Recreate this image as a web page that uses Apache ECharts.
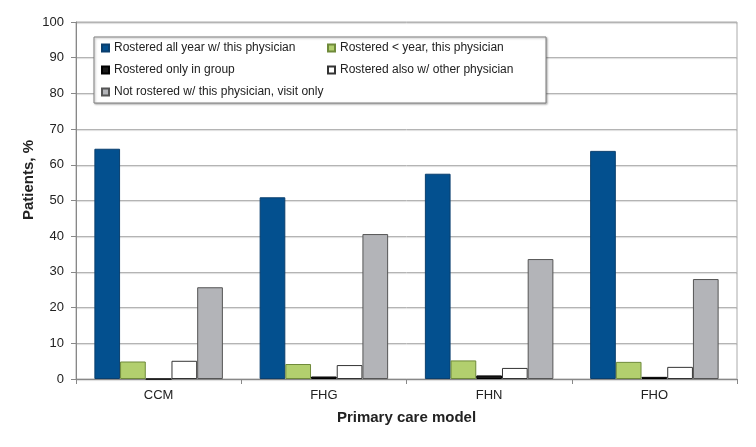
<!DOCTYPE html>
<html>
<head>
<meta charset="utf-8">
<script src="https://cdn.jsdelivr.net/npm/echarts@6/dist/echarts.min.js"></script>
<style>
html,body{margin:0;padding:0;background:#fff;}
#chart{width:756px;height:447px;}
</style>
</head>
<body>
<div id="chart"></div>
<script>
const categories = ['CCM', 'FHG', 'FHN', 'FHO'];
const seriesNames = [
  'Rostered all year w/ this physician',
  'Rostered < year, this physician',
  'Rostered only in group',
  'Rostered also w/ other physician',
  'Not rostered w/ this physician, visit only'
];
const rosteredAllYear = [64.5, 50.9, 57.5, 63.9];
const rosteredLessYear = [4.9, 4.2, 5.2, 4.8];
const rosteredGroupOnly = [0, 0.7, 1.0, 0.6];
const rosteredAlsoOther = [5.1, 3.9, 3.1, 3.4];
const notRostered = [25.7, 40.6, 33.6, 28.0];
const yTicks = [0, 10, 20, 30, 40, 50, 60, 70, 80, 90, 100];

const seriesData = [rosteredAllYear, rosteredLessYear, rosteredGroupOnly, rosteredAlsoOther, notRostered];
const fills = ['#03508f', '#b2cf6e', '#1a1a1a', '#ffffff', '#b3b4b8'];
const borders = ['#0a3f6e', '#6f8a3a', '#000000', '#333333', '#555555'];

const font = 'Liberation Sans, Arial, Helvetica, sans-serif';

const chart = echarts.init(document.getElementById('chart'), null, {renderer: 'canvas'});

const series = seriesNames.map((n, i) => ({
  name: n,
  type: 'bar',
  data: seriesData[i],
  barWidth: 25.7,
  barGap: '0%',
  itemStyle: {color: fills[i], borderColor: borders[i], borderWidth: 1},
  emphasis: {disabled: true},
  animation: false
}));

// legend positions: [left, top]
const legendPos = [[101, 41], [327, 41], [101, 63], [327, 63], [101, 85]];
const legends = seriesNames.map((n, i) => ({
  data: [n],
  left: legendPos[i][0],
  top: legendPos[i][1],
  padding: 0,
  icon: 'rect',
  itemWidth: 7,
  itemHeight: 7,
  itemGap: 0,
  selectedMode: false,
  z: 10,
  textStyle: {fontFamily: font, fontSize: 12, color: '#222', lineHeight: 14}
}));

chart.setOption({
  backgroundColor: '#fff',
  animation: false,
  textStyle: {fontFamily: font},
  grid: {left: 76, right: 19, top: 22, bottom: 68, show: true, borderColor: '#aaa', borderWidth: 1, containLabel: false},
  legend: legends,
  graphic: [
    {
      type: 'rect',
      z: 5,
      shape: {x: 94, y: 37, width: 452, height: 66},
      style: {fill: '#fff', stroke: '#808080', lineWidth: 1, shadowBlur: 2, shadowOffsetX: 1, shadowOffsetY: 1, shadowColor: 'rgba(0,0,0,0.3)'}
    },
    {
      type: 'text',
      z: 5,
      x: 29,
      y: 180,
      rotation: Math.PI / 2,
      style: {text: 'Patients, %', font: 'bold 15px ' + font, fill: '#222', align: 'center', verticalAlign: 'middle'}
    }
  ],
  xAxis: {
    type: 'category',
    data: categories,
    name: 'Primary care model',
    nameLocation: 'middle',
    nameGap: 31,
    nameTextStyle: {fontFamily: font, fontSize: 15, fontWeight: 'bold', color: '#222', verticalAlign: 'top'},
    axisLine: {lineStyle: {color: '#888'}},
    axisTick: {show: true, length: 5, lineStyle: {color: '#888'}},
    axisLabel: {fontFamily: font, fontSize: 13, color: '#222', margin: 10},
    splitLine: {show: false}
  },
  yAxis: {
    type: 'value',
    min: yTicks[0],
    max: yTicks[yTicks.length - 1],
    interval: 10,
    axisLine: {show: true, lineStyle: {color: '#888'}},
    axisTick: {show: true, length: 5, lineStyle: {color: '#888'}},
    axisLabel: {fontFamily: font, fontSize: 13, color: '#222', margin: 12},
    splitLine: {lineStyle: {color: '#b4b4b4', width: 1, shadowColor: 'rgba(0,0,0,0.15)', shadowOffsetY: 1, shadowBlur: 1}}
  },
  series: series
});
</script>
</body>
</html>
